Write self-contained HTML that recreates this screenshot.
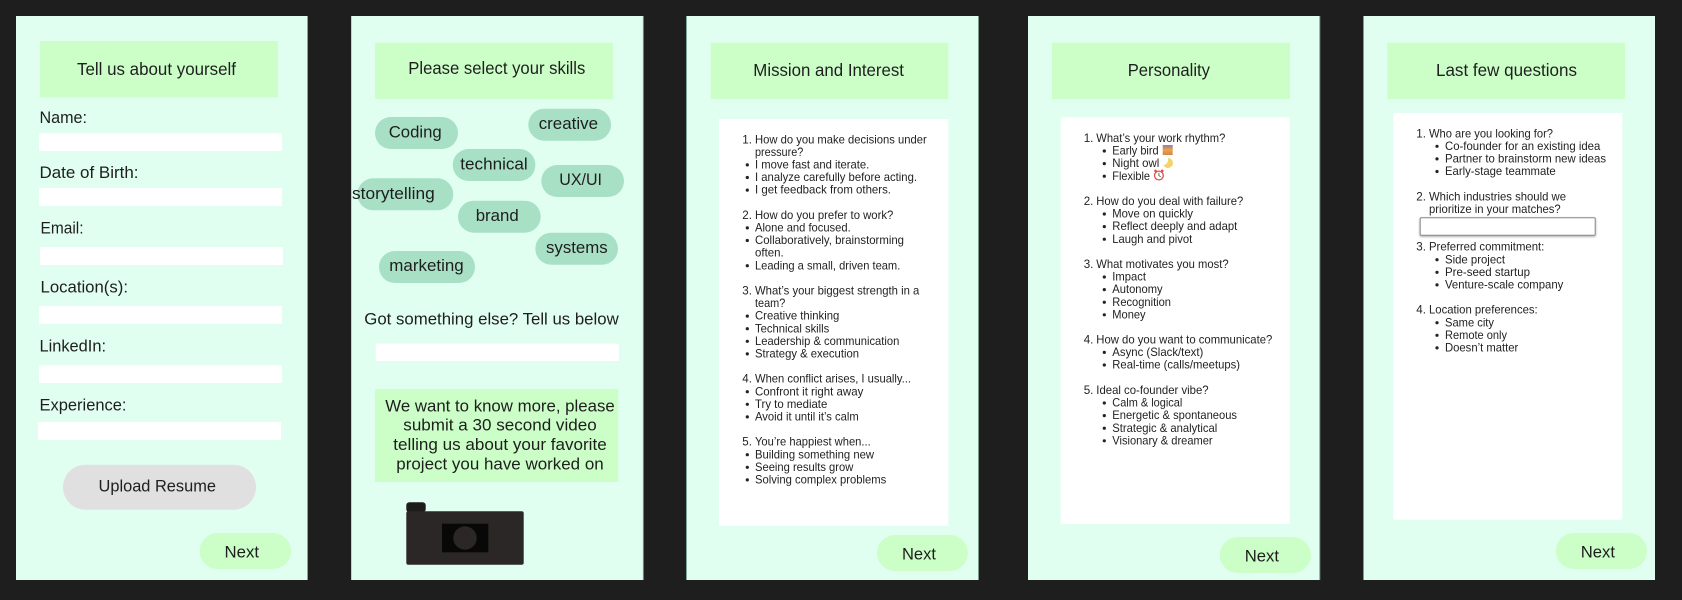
<!DOCTYPE html>
<html lang="en"><head><meta charset="utf-8"><title>Onboarding screens</title>
<style>
html,body{margin:0;padding:0;background:#1e1e1e}
svg{display:block}
text{font-family:"Liberation Sans",sans-serif;fill:#1e1e1e}
.h{font-size:17.5px}.l{font-size:17px}.c{font-size:17px}.s{font-size:11.6px;fill:#222}
.p{fill:#e1fff1}.g{fill:#ccffc8}.w{fill:#fff}.t{fill:#a8e0c5}
</style></head><body>
<svg xmlns="http://www.w3.org/2000/svg" width="1682" height="600" viewBox="0 0 1682 600">
<defs><filter id="sh" x="-5%" y="-20%" width="110%" height="150%"><feDropShadow dx="0" dy="1" stdDeviation="1" flood-color="#000" flood-opacity=".35"/></filter>
<linearGradient id="sun" x1="0" y1="0" x2="0" y2="1"><stop offset="0" stop-color="#8a7fb0"/><stop offset=".5" stop-color="#f4a040"/><stop offset="1" stop-color="#c98a50"/></linearGradient></defs>
<rect width="1682" height="600" fill="#1e1e1e"/>

<!-- Panel 1 -->
<rect class="p" x="16" y="16" width="291.5" height="564"/><rect x="307" y="16" width="1" height="564" fill="#7fa898"/>
<rect class="g" x="40" y="41" width="238" height="56.5"/>
<text class="h" x="77" y="75" textLength="159" lengthAdjust="spacingAndGlyphs">Tell us about yourself</text>
<text class="l" x="39.5" y="123" textLength="47.5" lengthAdjust="spacingAndGlyphs">Name:</text>
<rect class="w" x="39" y="133.3" width="243" height="17.7"/>
<text class="l" x="39.5" y="178" textLength="99" lengthAdjust="spacingAndGlyphs">Date of Birth:</text>
<rect class="w" x="39" y="188" width="243" height="18"/>
<text class="l" x="40.5" y="233.7" textLength="43" lengthAdjust="spacingAndGlyphs">Email:</text>
<rect class="w" x="40" y="247" width="243" height="18"/>
<text class="l" x="40.5" y="292.7" textLength="87.5" lengthAdjust="spacingAndGlyphs">Location(s):</text>
<rect class="w" x="39" y="306" width="243" height="17.7"/>
<text class="l" x="39.5" y="351.7" textLength="66.5" lengthAdjust="spacingAndGlyphs">LinkedIn:</text>
<rect class="w" x="39" y="365.3" width="243" height="17.7"/>
<text class="l" x="39.5" y="410.7" textLength="87" lengthAdjust="spacingAndGlyphs">Experience:</text>
<rect class="w" x="38" y="422" width="243" height="18"/>
<rect x="63" y="464.7" width="193" height="45" rx="22.5" fill="#e0e0e0"/>
<text class="l" x="98.5" y="491.7" textLength="117.5" lengthAdjust="spacingAndGlyphs">Upload Resume</text>
<rect class="g" x="199.5" y="533" width="91.5" height="36" rx="18"/>
<text class="l" x="224.5" y="557.7" textLength="34.5" lengthAdjust="spacingAndGlyphs">Next</text>

<!-- Panel 2 -->
<rect class="p" x="351.5" y="16" width="291.2" height="564"/>
<rect x="351" y="16" width="1" height="564" fill="#b5d8ca"/><rect x="642.5" y="16" width="1" height="564" fill="#c5e5d8"/>
<rect class="g" x="375" y="42.7" width="238" height="56.3"/>
<text class="h" x="408.3" y="74" textLength="177" lengthAdjust="spacingAndGlyphs">Please select your skills</text>
<rect class="t" x="375" y="117" width="83" height="32" rx="16"/>
<text class="c" x="388.7" y="137.3" textLength="53" lengthAdjust="spacingAndGlyphs">Coding</text>
<rect class="t" x="528.3" y="108.7" width="82.7" height="32" rx="16"/>
<text class="c" x="538.7" y="129" textLength="59.3" lengthAdjust="spacingAndGlyphs">creative</text>
<rect class="t" x="452.7" y="149" width="82.7" height="32" rx="16"/>
<text class="c" x="460.3" y="169.3" textLength="67.4" lengthAdjust="spacingAndGlyphs">technical</text>
<rect class="t" x="541.3" y="165" width="82.7" height="32" rx="16"/>
<text class="c" x="559.3" y="185" textLength="42.7" lengthAdjust="spacingAndGlyphs">UX/UI</text>
<rect class="t" x="357.3" y="178.3" width="96" height="32" rx="16"/>
<text class="c" x="352" y="199" textLength="82.7" lengthAdjust="spacingAndGlyphs">storytelling</text>
<rect class="t" x="458" y="200.7" width="82.7" height="32" rx="16"/>
<text class="c" x="475.7" y="221" textLength="43" lengthAdjust="spacingAndGlyphs">brand</text>
<rect class="t" x="535.3" y="232.7" width="82.7" height="32" rx="16"/>
<text class="c" x="546" y="253" textLength="61.7" lengthAdjust="spacingAndGlyphs">systems</text>
<rect class="t" x="379" y="251" width="96" height="32" rx="16"/>
<text class="c" x="389.3" y="271" textLength="74.4" lengthAdjust="spacingAndGlyphs">marketing</text>
<text class="l" x="364.3" y="324.3" textLength="254.4" lengthAdjust="spacingAndGlyphs">Got something else? Tell us below</text>
<rect class="w" x="375.7" y="343.7" width="243.3" height="17.3"/>
<rect class="g" x="375" y="389" width="243.3" height="93"/>
<text class="l" x="385.3" y="411.3" textLength="229.4" lengthAdjust="spacingAndGlyphs">We want to know more, please</text>
<text class="l" x="403.3" y="430.7" textLength="193.4" lengthAdjust="spacingAndGlyphs">submit a 30 second video</text>
<text class="l" x="393.3" y="450" textLength="213.4" lengthAdjust="spacingAndGlyphs">telling us about your favorite</text>
<text class="l" x="396.3" y="469.3" textLength="207.4" lengthAdjust="spacingAndGlyphs">project you have worked on</text>
<rect x="406.3" y="502.3" width="19.4" height="10" rx="3" fill="#1e1b1b"/>
<rect x="406.3" y="511.3" width="117.4" height="53.4" rx="2" fill="#2c2727"/>
<rect x="442" y="523.7" width="46.3" height="28.6" fill="#080808"/>
<circle cx="465" cy="538" r="11.7" fill="#2c2727"/>

<!-- Panel 3 -->
<rect class="p" x="686.7" y="16" width="291.6" height="564"/>
<rect x="686" y="16" width="1" height="564" fill="#7fa898"/><rect x="978" y="16" width="1" height="564" fill="#7f9a8e"/>
<rect class="g" x="710.7" y="42.7" width="237.6" height="56.3"/>
<text class="h" x="753.3" y="76" textLength="150.7" lengthAdjust="spacingAndGlyphs">Mission and Interest</text>
<rect class="w" x="719" y="119" width="229.3" height="406.7"/>
<g>
<text class="s" x="742.3" y="143.3">1.</text><text class="s" x="755" y="143.3" textLength="171.7" lengthAdjust="spacingAndGlyphs">How do you make decisions under</text>
<text class="s" x="755" y="155.9" textLength="48.3" lengthAdjust="spacingAndGlyphs">pressure?</text>
<circle cx="747.3" cy="164.9" r="1.6" fill="#222"/><text class="s" x="755" y="168.5" textLength="114.3" lengthAdjust="spacingAndGlyphs">I move fast and iterate.</text>
<circle cx="747.3" cy="177.5" r="1.6" fill="#222"/><text class="s" x="755" y="181.1" textLength="162" lengthAdjust="spacingAndGlyphs">I analyze carefully before acting.</text>
<circle cx="747.3" cy="190.1" r="1.6" fill="#222"/><text class="s" x="755" y="193.7" textLength="136" lengthAdjust="spacingAndGlyphs">I get feedback from others.</text>
<text class="s" x="742.3" y="218.9">2.</text><text class="s" x="755" y="218.9" textLength="138.3" lengthAdjust="spacingAndGlyphs">How do you prefer to work?</text>
<circle cx="747.3" cy="227.9" r="1.6" fill="#222"/><text class="s" x="755" y="231.5" textLength="95.7" lengthAdjust="spacingAndGlyphs">Alone and focused.</text>
<circle cx="747.3" cy="240.5" r="1.6" fill="#222"/><text class="s" x="755" y="244.1" textLength="149" lengthAdjust="spacingAndGlyphs">Collaboratively, brainstorming</text>
<text class="s" x="755" y="256.7" textLength="28.7" lengthAdjust="spacingAndGlyphs">often.</text>
<circle cx="747.3" cy="265.7" r="1.6" fill="#222"/><text class="s" x="755" y="269.3" textLength="145.3" lengthAdjust="spacingAndGlyphs">Leading a small, driven team.</text>
<text class="s" x="742.3" y="294.5">3.</text><text class="s" x="755" y="294.5" textLength="164.3" lengthAdjust="spacingAndGlyphs">What’s your biggest strength in a</text>
<text class="s" x="755" y="307.1" textLength="30.3" lengthAdjust="spacingAndGlyphs">team?</text>
<circle cx="747.3" cy="316.1" r="1.6" fill="#222"/><text class="s" x="755" y="319.7" textLength="84.3" lengthAdjust="spacingAndGlyphs">Creative thinking</text>
<circle cx="747.3" cy="328.7" r="1.6" fill="#222"/><text class="s" x="755" y="332.3" textLength="74.3" lengthAdjust="spacingAndGlyphs">Technical skills</text>
<circle cx="747.3" cy="341.3" r="1.6" fill="#222"/><text class="s" x="755" y="344.9" textLength="144.3" lengthAdjust="spacingAndGlyphs">Leadership &amp; communication</text>
<circle cx="747.3" cy="353.9" r="1.6" fill="#222"/><text class="s" x="755" y="357.5" textLength="104" lengthAdjust="spacingAndGlyphs">Strategy &amp; execution</text>
<text class="s" x="742.3" y="382.7">4.</text><text class="s" x="755" y="382.7" textLength="156" lengthAdjust="spacingAndGlyphs">When conflict arises, I usually...</text>
<circle cx="747.3" cy="391.7" r="1.6" fill="#222"/><text class="s" x="755" y="395.3" textLength="108.3" lengthAdjust="spacingAndGlyphs">Confront it right away</text>
<circle cx="747.3" cy="404.3" r="1.6" fill="#222"/><text class="s" x="755" y="407.9" textLength="72.3" lengthAdjust="spacingAndGlyphs">Try to mediate</text>
<circle cx="747.3" cy="416.9" r="1.6" fill="#222"/><text class="s" x="755" y="420.5" textLength="103.7" lengthAdjust="spacingAndGlyphs">Avoid it until it’s calm</text>
<text class="s" x="742.3" y="445.7">5.</text><text class="s" x="755" y="445.7" textLength="115.7" lengthAdjust="spacingAndGlyphs">You’re happiest when...</text>
<circle cx="747.3" cy="454.7" r="1.6" fill="#222"/><text class="s" x="755" y="458.3" textLength="119" lengthAdjust="spacingAndGlyphs">Building something new</text>
<circle cx="747.3" cy="467.3" r="1.6" fill="#222"/><text class="s" x="755" y="470.9" textLength="98.3" lengthAdjust="spacingAndGlyphs">Seeing results grow</text>
<circle cx="747.3" cy="479.9" r="1.6" fill="#222"/><text class="s" x="755" y="483.5" textLength="131.3" lengthAdjust="spacingAndGlyphs">Solving complex problems</text>
</g>
<rect class="g" x="877" y="535" width="91" height="36" rx="18"/>
<text class="l" x="902" y="559.7" textLength="34" lengthAdjust="spacingAndGlyphs">Next</text>

<!-- Panel 4 -->
<rect class="p" x="1028" y="16" width="291.7" height="564"/><rect x="1319.3" y="16" width="1" height="564" fill="#7f9a8e"/>
<rect class="g" x="1052" y="42.7" width="238" height="56.3"/>
<text class="h" x="1127.7" y="76" textLength="82.3" lengthAdjust="spacingAndGlyphs">Personality</text>
<rect class="w" x="1060.7" y="117.3" width="229" height="406.7"/>
<g>
<text class="s" x="1083.7" y="142">1.</text><text class="s" x="1096.3" y="142" textLength="129" lengthAdjust="spacingAndGlyphs">What’s your work rhythm?</text>
<circle cx="1104.3" cy="151" r="1.6" fill="#222"/><text class="s" x="1112.3" y="154.6" textLength="46.3" lengthAdjust="spacingAndGlyphs">Early bird</text>
<rect x="1162.7" y="145" width="10" height="10" fill="url(#sun)"/>
<circle cx="1104.3" cy="163.6" r="1.6" fill="#222"/><text class="s" x="1112.3" y="167.2" textLength="47" lengthAdjust="spacingAndGlyphs">Night owl</text>
<path d="M1168 158A5 5 0 1 1 1163.5 165.2A6 6 0 0 0 1168 158z" fill="#f5d36a"/>
<circle cx="1104.3" cy="176.2" r="1.6" fill="#222"/><text class="s" x="1112.3" y="179.8" textLength="37.7" lengthAdjust="spacingAndGlyphs">Flexible</text>
<circle cx="1158.9" cy="175.5" r="4.4" fill="#fff" stroke="#d9534f" stroke-width="1.3"/><path d="M1158.9 172.8v2.9l1.8 1" fill="none" stroke="#444" stroke-width=".8"/><circle cx="1155.5" cy="170.8" r="1.3" fill="#d9534f"/><circle cx="1162.3" cy="170.8" r="1.3" fill="#d9534f"/>
<text class="s" x="1083.7" y="205">2.</text><text class="s" x="1096.3" y="205" textLength="147" lengthAdjust="spacingAndGlyphs">How do you deal with failure?</text>
<circle cx="1104.3" cy="214" r="1.6" fill="#222"/><text class="s" x="1112.3" y="217.6" textLength="80.7" lengthAdjust="spacingAndGlyphs">Move on quickly</text>
<circle cx="1104.3" cy="226.6" r="1.6" fill="#222"/><text class="s" x="1112.3" y="230.2" textLength="125" lengthAdjust="spacingAndGlyphs">Reflect deeply and adapt</text>
<circle cx="1104.3" cy="239.2" r="1.6" fill="#222"/><text class="s" x="1112.3" y="242.8" textLength="80" lengthAdjust="spacingAndGlyphs">Laugh and pivot</text>
<text class="s" x="1083.7" y="268">3.</text><text class="s" x="1096.3" y="268" textLength="132.3" lengthAdjust="spacingAndGlyphs">What motivates you most?</text>
<circle cx="1104.3" cy="277" r="1.6" fill="#222"/><text class="s" x="1112.3" y="280.6" textLength="33.7" lengthAdjust="spacingAndGlyphs">Impact</text>
<circle cx="1104.3" cy="289.6" r="1.6" fill="#222"/><text class="s" x="1112.3" y="293.2" textLength="50.3" lengthAdjust="spacingAndGlyphs">Autonomy</text>
<circle cx="1104.3" cy="302.2" r="1.6" fill="#222"/><text class="s" x="1112.3" y="305.8" textLength="58.7" lengthAdjust="spacingAndGlyphs">Recognition</text>
<circle cx="1104.3" cy="314.8" r="1.6" fill="#222"/><text class="s" x="1112.3" y="318.4" textLength="33.3" lengthAdjust="spacingAndGlyphs">Money</text>
<text class="s" x="1083.7" y="343.4">4.</text><text class="s" x="1096.3" y="343.4" textLength="176" lengthAdjust="spacingAndGlyphs">How do you want to communicate?</text>
<circle cx="1104.3" cy="352.4" r="1.6" fill="#222"/><text class="s" x="1112.3" y="356" textLength="91" lengthAdjust="spacingAndGlyphs">Async (Slack/text)</text>
<circle cx="1104.3" cy="365" r="1.6" fill="#222"/><text class="s" x="1112.3" y="368.6" textLength="127.7" lengthAdjust="spacingAndGlyphs">Real-time (calls/meetups)</text>
<text class="s" x="1083.7" y="394">5.</text><text class="s" x="1096.3" y="394" textLength="112.3" lengthAdjust="spacingAndGlyphs">Ideal co-founder vibe?</text>
<circle cx="1104.3" cy="403" r="1.6" fill="#222"/><text class="s" x="1112.3" y="406.6" textLength="70" lengthAdjust="spacingAndGlyphs">Calm &amp; logical</text>
<circle cx="1104.3" cy="415.6" r="1.6" fill="#222"/><text class="s" x="1112.3" y="419.2" textLength="124.7" lengthAdjust="spacingAndGlyphs">Energetic &amp; spontaneous</text>
<circle cx="1104.3" cy="428.2" r="1.6" fill="#222"/><text class="s" x="1112.3" y="431.8" textLength="105" lengthAdjust="spacingAndGlyphs">Strategic &amp; analytical</text>
<circle cx="1104.3" cy="440.8" r="1.6" fill="#222"/><text class="s" x="1112.3" y="444.4" textLength="100.3" lengthAdjust="spacingAndGlyphs">Visionary &amp; dreamer</text>
</g>
<rect class="g" x="1219.7" y="537" width="91.3" height="36" rx="18"/>
<text class="l" x="1244.7" y="561.7" textLength="34.3" lengthAdjust="spacingAndGlyphs">Next</text>

<!-- Panel 5 -->
<rect class="p" x="1363.3" y="16" width="291.7" height="564"/><rect x="1363" y="16" width="1" height="564" fill="#7f9a8e"/>
<rect class="g" x="1387.3" y="42.7" width="237.7" height="56.3"/>
<text class="h" x="1436" y="76" textLength="141" lengthAdjust="spacingAndGlyphs">Last few questions</text>
<rect class="w" x="1393.3" y="113" width="229" height="406.7"/>
<g>
<text class="s" x="1416.3" y="137.3">1.</text><text class="s" x="1429" y="137.3" textLength="124" lengthAdjust="spacingAndGlyphs">Who are you looking for?</text>
<circle cx="1437" cy="146.3" r="1.6" fill="#222"/><text class="s" x="1445" y="149.9" textLength="155.3" lengthAdjust="spacingAndGlyphs">Co-founder for an existing idea</text>
<circle cx="1437" cy="158.9" r="1.6" fill="#222"/><text class="s" x="1445" y="162.5" textLength="161" lengthAdjust="spacingAndGlyphs">Partner to brainstorm new ideas</text>
<circle cx="1437" cy="171.5" r="1.6" fill="#222"/><text class="s" x="1445" y="175.1" textLength="110.7" lengthAdjust="spacingAndGlyphs">Early-stage teammate</text>
<text class="s" x="1416.3" y="200.3">2.</text><text class="s" x="1429" y="200.3" textLength="137" lengthAdjust="spacingAndGlyphs">Which industries should we</text>
<text class="s" x="1429" y="212.9" textLength="131.7" lengthAdjust="spacingAndGlyphs">prioritize in your matches?</text>
<rect x="1420.2" y="217.8" width="175" height="17.4" rx="1" fill="#fff" stroke="#858585" stroke-width="1" filter="url(#sh)"/>
<text class="s" x="1416.3" y="250.7">3.</text><text class="s" x="1429" y="250.7" textLength="115.3" lengthAdjust="spacingAndGlyphs">Preferred commitment:</text>
<circle cx="1437" cy="259.7" r="1.6" fill="#222"/><text class="s" x="1445" y="263.3" textLength="60" lengthAdjust="spacingAndGlyphs">Side project</text>
<circle cx="1437" cy="272.3" r="1.6" fill="#222"/><text class="s" x="1445" y="275.9" textLength="85" lengthAdjust="spacingAndGlyphs">Pre-seed startup</text>
<circle cx="1437" cy="284.9" r="1.6" fill="#222"/><text class="s" x="1445" y="288.5" textLength="118.3" lengthAdjust="spacingAndGlyphs">Venture-scale company</text>
<text class="s" x="1416.3" y="313.7">4.</text><text class="s" x="1429" y="313.7" textLength="108.7" lengthAdjust="spacingAndGlyphs">Location preferences:</text>
<circle cx="1437" cy="322.7" r="1.6" fill="#222"/><text class="s" x="1445" y="326.3" textLength="49" lengthAdjust="spacingAndGlyphs">Same city</text>
<circle cx="1437" cy="335.3" r="1.6" fill="#222"/><text class="s" x="1445" y="338.9" textLength="62" lengthAdjust="spacingAndGlyphs">Remote only</text>
<circle cx="1437" cy="347.9" r="1.6" fill="#222"/><text class="s" x="1445" y="351.5" textLength="73.3" lengthAdjust="spacingAndGlyphs">Doesn’t matter</text>
</g>
<rect class="g" x="1555.7" y="533" width="91.3" height="36" rx="18"/>
<text class="l" x="1580.7" y="557.7" textLength="34.3" lengthAdjust="spacingAndGlyphs">Next</text>
</svg>
</body></html>
